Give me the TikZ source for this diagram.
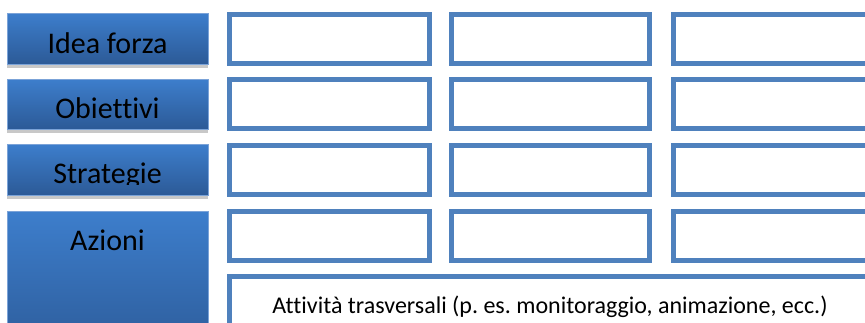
\documentclass[tikz,border=0pt]{standalone}
\usepackage{fontspec}
\setmainfont[Ligatures=NoCommon]{Carlito}
\frenchspacing
\definecolor{bluetop}{HTML}{3D7ECC}
\definecolor{bluebot}{HTML}{2C5A97}
\definecolor{blueedge}{HTML}{7BA3D8}
\definecolor{cellblue}{HTML}{4F81BD}
\definecolor{shadowgray}{HTML}{C8C8C8}
\begin{document}
\begin{tikzpicture}[x=1pt,y=-1pt,
  lblbox/.style={rectangle, anchor=north west, inner sep=0pt, outer sep=0pt,
    top color=bluetop, bottom color=bluebot, draw=blueedge, line width=0.8pt},
  cellbox/.style={rectangle, anchor=north west, inner sep=0pt, outer sep=0pt,
    draw=cellblue, line width=5pt, fill=white},
  lbl/.style={anchor=base, font=\fontsize{30}{36}\selectfont, text=black, inner sep=0pt},
  smalllbl/.style={anchor=base, font=\fontsize{24}{28}\selectfont, text=black, inner sep=0pt},
  shadowstrip/.style={fill=shadowgray, draw=none}]
\useasboundingbox (0,0) rectangle (865,322);
\clip (0,0) rectangle (865,322);
% left label boxes
\node[lblbox, minimum width=201pt, minimum height=51pt] (idea) at (7,13) {};
\node[lblbox, minimum width=201pt, minimum height=50pt] (obi) at (7,79) {};
\node[lblbox, minimum width=201pt, minimum height=51pt] (str) at (7,144) {};
\node[lblbox, minimum width=201pt, minimum height=150pt,
      top color=bluetop, bottom color=bluebot] (azi) at (7,211) {};
% shadow strips
\fill[shadowstrip] (7,64.5) rectangle (208,68);
\fill[shadowstrip] (7,129.5) rectangle (208,133);
\fill[shadowstrip] (7,195.5) rectangle (208,199);
% labels
\node[lbl] (tidea) at (107.5,53) {Idea forza};
\node[lbl] (tobi) at (107.5,118) {Obiettivi};
\begin{scope}
  \clip (0,140) rectangle (220,184.5);
  \node[lbl] (tstr) at (107.5,183.5) {Strategie};
\end{scope}
\node[lbl] (tazi) at (107.5,250) {Azioni};
% grid of cells
\foreach \r/\y in {1/14.2,2/79.8,3/145.8,4/211.5}{
  \node[cellbox, minimum width=199.4pt, minimum height=49pt] (c\r a) at (229.8,\y) {};
  \node[cellbox, minimum width=198pt, minimum height=49pt] (c\r b) at (451.5,\y) {};
  \node[cellbox, minimum width=250pt, minimum height=49pt] (c\r c) at (673,\y) {};
}
% bottom wide box
\node[cellbox, minimum width=700pt, minimum height=100pt] (trasv) at (229.8,276.8) {};
\node[smalllbl] (ttrasv) at (550,313) {Attività trasversali (p. es. monitoraggio, animazione, ecc.)};
\end{tikzpicture}
\end{document}
